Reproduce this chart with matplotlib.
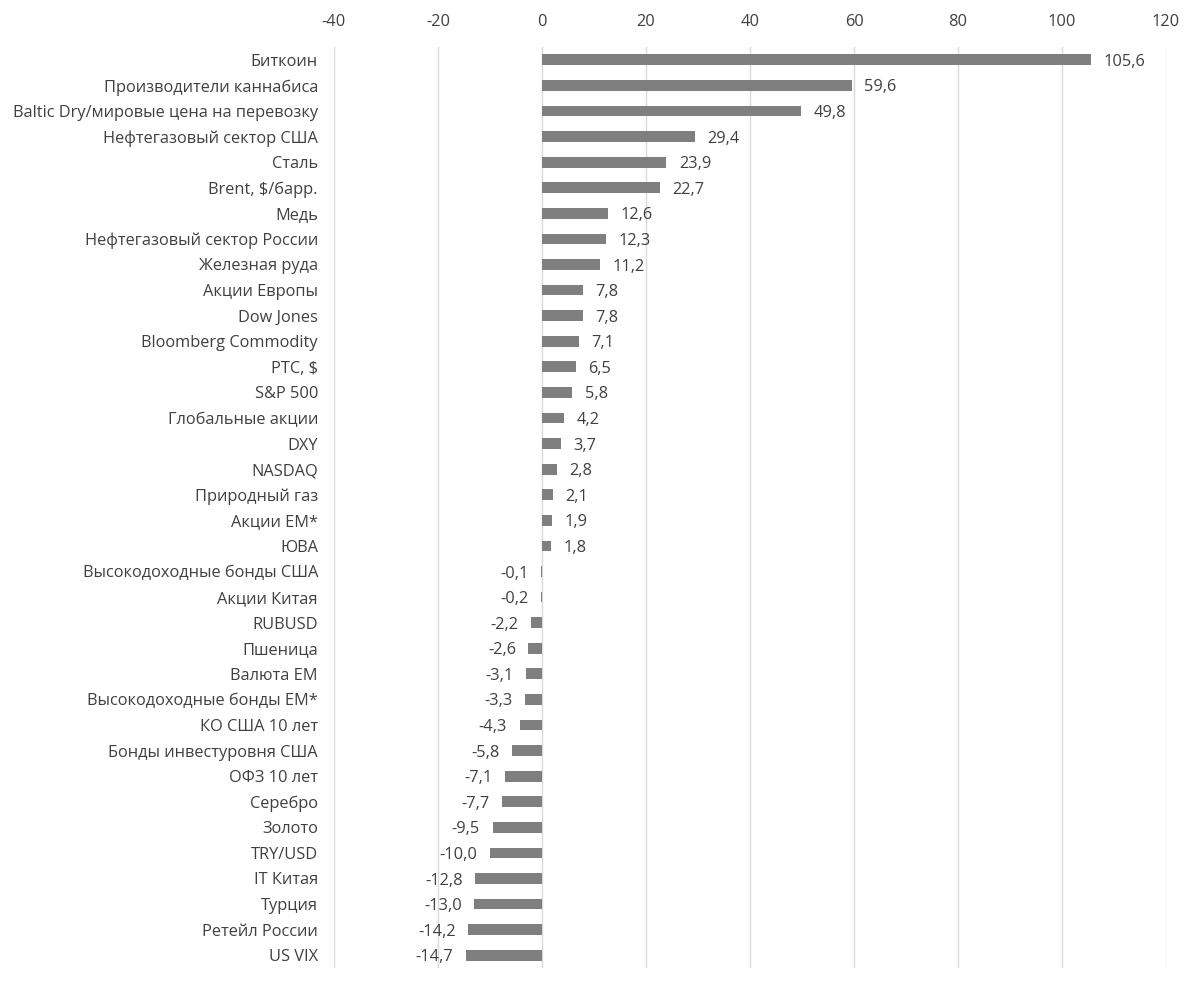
import matplotlib
matplotlib.use("Agg")
import matplotlib.pyplot as plt

categories = ["Биткоин", "Производители каннабиса", "Baltic Dry/мировые цена на перевозку",
              "Нефтегазовый сектор США", "Сталь", "Brent, $/барр.", "Медь",
              "Нефтегазовый сектор России", "Железная руда", "Акции Европы", "Dow Jones",
              "Bloomberg Commodity", "РТС, $", "S&P 500", "Глобальные акции", "DXY", "NASDAQ",
              "Природный газ", "Акции EM*", "ЮВА", "Высокодоходные бонды США", "Акции Китая",
              "RUBUSD", "Пшеница", "Валюта EM", "Высокодоходные бонды EM*", "КО США 10 лет",
              "Бонды инвестуровня США", "ОФЗ 10 лет", "Серебро", "Золото", "TRY/USD",
              "IT Китая", "Турция", "Ретейл России", "US VIX"]
values = [105.6, 59.6, 49.8, 29.4, 23.9, 22.7, 12.6, 12.3, 11.2, 7.8, 7.8, 7.1, 6.5, 5.8,
          4.2, 3.7, 2.8, 2.1, 1.9, 1.8, -0.1, -0.2, -2.2, -2.6, -3.1, -3.3, -4.3, -5.8,
          -7.1, -7.7, -9.5, -10.0, -12.8, -13.0, -14.2, -14.7]
xticks = [-40, -20, 0, 20, 40, 60, 80, 100, 120]

plt.rcParams['font.family'] = ['Open Sans', 'DejaVu Sans']
text_color = "#404040"

fig = plt.figure(figsize=(12, 9.9), dpi=100)
ax = fig.add_axes([0.2783, 0.0222, 0.6934, 0.9303])

y = list(range(len(categories)))
ax.barh(y, values, height=0.42, color="#7f7f7f", zorder=3)
ax.set_ylim(len(categories) - 0.5, -0.5)
ax.set_xlim(-40, 120)
ax.set_xticks(xticks)
ax.set_xticklabels([str(t) for t in xticks])
ax.xaxis.tick_top()
ax.set_yticks(y)
ax.set_yticklabels(categories)
ax.tick_params(axis='both', length=0, labelsize=11.8, colors=text_color)
ax.tick_params(axis='x', pad=12.5)
ax.tick_params(axis='y', pad=11.5)
for s in ax.spines.values():
    s.set_visible(False)
ax.grid(axis='x', color="#d9d9d9", linewidth=1, zorder=0)
ax.set_axisbelow(True)

for yi, v in zip(y, values):
    lbl = f"{v:.1f}".replace(".", ",")
    if v >= 0:
        ax.annotate(lbl, (v, yi), xytext=(9, -1.5), textcoords='offset points',
                    ha='left', va='center', fontsize=11.8, color=text_color)
    else:
        ax.annotate(lbl, (v, yi), xytext=(-9, -1.5), textcoords='offset points',
                    ha='right', va='center', fontsize=11.8, color=text_color)

fig.savefig("out.png", dpi=100, facecolor="white")
